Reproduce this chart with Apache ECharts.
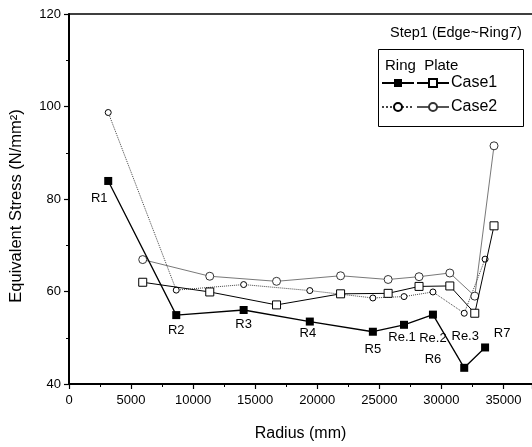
<!DOCTYPE html>
<html>
<head>
<meta charset="utf-8">
<script src="https://cdn.jsdelivr.net/npm/echarts@6/dist/echarts.min.js"></script>
<style>html,body{margin:0;padding:0;background:#fff}#c{width:532px;height:447px}</style>
</head>
<body>
<div id="c"></div>
<script>
// ---- data ----
const ringX = [3160, 8640, 14070, 19400, 24480, 26990, 29320, 31840, 33520];
const ringCase1 = [83.9, 54.9, 56.0, 53.5, 51.3, 52.8, 55.0, 43.5, 47.9];
const ringCase2 = [98.7, 60.3, 61.5, 60.2, 58.6, 58.9, 59.9, 55.3, 67.0];
const plateX = [5940, 11340, 16720, 21880, 25710, 28200, 30680, 32690, 34240];
const plateCase1 = [62.0, 59.9, 57.1, 59.5, 59.6, 61.1, 61.2, 55.3, 74.2];
const plateCase2 = [66.9, 63.3, 62.2, 63.4, 62.6, 63.2, 64.0, 59.0, 91.5];
const ringLabels = ['R1', 'R2', 'R3', 'R4', 'R5', 'Re.1', 'Re.2\nR6', 'Re.3', 'R7'];
const xTicks = [0, 5000, 10000, 15000, 20000, 25000, 30000, 35000];
const yTicks = [40, 60, 80, 100, 120];

// ---- label placement (style only) ----
const labelPlace = [
  {position: 'bottom', offset: [-9, 2]},
  {position: 'bottom', offset: [0, 0]},
  {position: 'bottom', offset: [0, -1]},
  {position: 'bottom', offset: [-2, -4]},
  {position: 'bottom', offset: [0, 2]},
  {position: 'bottom', offset: [-2, -3]},
  {position: 'bottom', offset: [0, 4], lineHeight: 21},
  {position: 'top', offset: [1, -16]},
  {position: 'top', offset: [17, 1]}
];

const FONT = 'Liberation Sans, Arial, sans-serif';
const pair = (xs, ys) => xs.map((x, i) => [x, ys[i]]);

const chart = echarts.init(document.getElementById('c'));
chart.setOption({
  animation: false,
  backgroundColor: '#fff',
  textStyle: {fontFamily: FONT, color: '#000'},
  grid: {left: 69, top: 14, right: 0, bottom: 60.3, containLabel: false},
  xAxis: [{
    type: 'value', min: 0, max: 37300, interval: 5000,
    name: 'Radius (mm)', nameLocation: 'middle', nameGap: 42,
    nameTextStyle: {fontSize: 16, color: '#000', fontFamily: FONT},
    axisLine: {show: true, onZero: false, lineStyle: {color: '#000', width: 2}},
    axisTick: {show: true, inside: false, length: 5, lineStyle: {color: '#000', width: 1.2}},
    minorTick: {show: true, splitNumber: 2, length: 3, lineStyle: {color: '#000', width: 1}},
    axisLabel: {fontSize: 13, color: '#000', margin: 10, showMaxLabel: false, fontFamily: FONT,
      formatter: v => xTicks.includes(v) ? String(v) : ''},
    splitLine: {show: false}, minorSplitLine: {show: false}
  }, {
    type: 'value', position: 'top', min: 0, max: 37300,
    axisLine: {show: true, onZero: false, lineStyle: {color: '#000', width: 1.5}},
    axisTick: {show: false}, axisLabel: {show: false}, splitLine: {show: false}
  }],
  yAxis: {
    type: 'value', min: 40, max: 120, interval: 20,
    name: 'Equivalent Stress (N/mm²)', nameLocation: 'middle', nameGap: 44,
    nameTextStyle: {fontSize: 16.5, color: '#000', fontFamily: FONT, padding: [0, 14, 0, 0]},
    axisLine: {show: true, onZero: false, lineStyle: {color: '#000', width: 2}},
    axisTick: {show: true, inside: false, length: 5, lineStyle: {color: '#000', width: 1.2}},
    minorTick: {show: true, splitNumber: 2, length: 3, lineStyle: {color: '#000', width: 1}},
    axisLabel: {fontSize: 13, color: '#000', margin: 8, fontFamily: FONT,
      formatter: v => yTicks.includes(v) ? String(v) : ''},
    splitLine: {show: false}, minorSplitLine: {show: false}
  },
  legend: [{
    data: ['Ring Case1', 'Ring Case2'],
    orient: 'vertical', left: 381, top: 75, padding: 0,
    itemWidth: 32, itemHeight: 10, itemGap: 8,
    formatter: () => ' ',
    textStyle: {fontSize: 16, lineHeight: 16, fontFamily: FONT},
    selectedMode: false
  }, {
    data: ['Plate Case1', 'Plate Case2'],
    orient: 'vertical', left: 416, top: 75, padding: 0,
    itemWidth: 32, itemHeight: 10, itemGap: 8,
    formatter: n => n.replace('Plate ', ''),
    textStyle: {fontSize: 16, lineHeight: 16, color: '#000', fontFamily: FONT, padding: [0, 0, 0, -3]},
    selectedMode: false
  }],
  graphic: [
    {type: 'text', left: 390, top: 25, style: {text: 'Step1 (Edge~Ring7)', fontSize: 14.5, fill: '#000', fontFamily: FONT}},
    {type: 'rect', shape: {x: 378.5, y: 49.5, width: 145, height: 77}, style: {fill: 'none', stroke: '#000', lineWidth: 1}, z: 10},
    {type: 'text', left: 385, top: 58, style: {text: 'Ring  Plate', fontSize: 15, fill: '#000', fontFamily: FONT}}
  ],
  series: [
    {
      name: 'Plate Case2', type: 'line', data: pair(plateX, plateCase2),
      symbol: 'circle', symbolSize: 8,
      lineStyle: {color: '#555', width: 0.8},
      itemStyle: {color: '#fff', borderColor: '#333', borderWidth: 1}, z: 2
    },
    {
      name: 'Ring Case2', type: 'line', data: pair(ringX, ringCase2),
      symbol: 'circle', symbolSize: 6,
      lineStyle: {color: '#444', width: 1, type: 'dotted'},
      itemStyle: {color: '#fff', borderColor: '#000', borderWidth: 1}, z: 3
    },
    {
      name: 'Plate Case1', type: 'line', data: pair(plateX, plateCase1),
      symbol: 'rect', symbolSize: 8,
      lineStyle: {color: '#000', width: 1},
      itemStyle: {color: '#fff', borderColor: '#000', borderWidth: 1}, z: 4
    },
    {
      name: 'Ring Case1', type: 'line',
      data: ringX.map((x, i) => ({
        value: [x, ringCase1[i]],
        label: Object.assign({show: true, formatter: ringLabels[i]}, labelPlace[i])
      })),
      symbol: 'rect', symbolSize: 8,
      lineStyle: {color: '#000', width: 1.3},
      itemStyle: {color: '#000'},
      label: {fontSize: 13, color: '#000', fontFamily: FONT},
      z: 5
    }
  ]
});
</script>
</body>
</html>
